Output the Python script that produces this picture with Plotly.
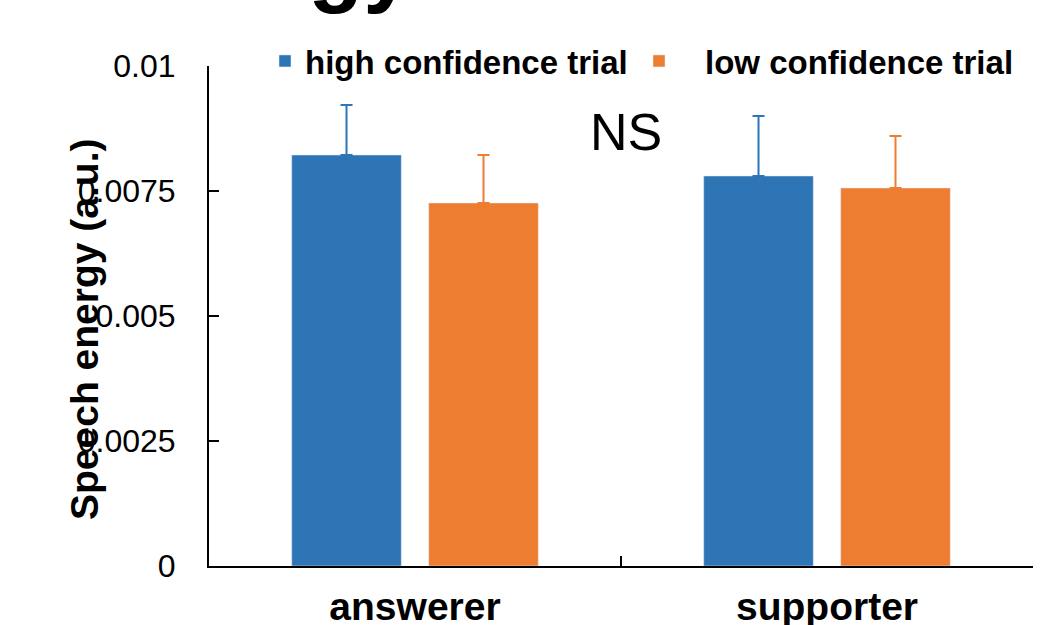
import plotly.graph_objects as go

categories = ["answerer", "supporter"]
high_vals = [0.00822, 0.00780]
high_err = [0.00100, 0.00120]
low_vals = [0.00726, 0.00756]
low_err = [0.00096, 0.00104]
series_names = ["high confidence trial", "low confidence trial"]
y_ticks = [0, 0.0025, 0.005, 0.0075, 0.01]
y_tick_labels = ["0", "0.0025", "0.005", "0.0075", "0.01"]

BLUE = "#2E75B6"
ORANGE = "#ED7D31"
FONT = "Liberation Sans, Arial, sans-serif"

fig = go.Figure()
fig.add_trace(go.Bar(
    x=categories, y=high_vals, name=series_names[0], marker_color=BLUE,
    legend="legend",
    error_y=dict(type="data", array=high_err, arrayminus=[0, 0], symmetric=False,
                 color=BLUE, thickness=2, width=6),
))
fig.add_trace(go.Bar(
    x=categories, y=low_vals, name=series_names[1], marker_color=ORANGE,
    legend="legend2",
    error_y=dict(type="data", array=low_err, arrayminus=[0, 0], symmetric=False,
                 color=ORANGE, thickness=2, width=6),
))

legend_common = dict(
    orientation="h", yanchor="middle", xanchor="left",
    font=dict(size=33, family=FONT, weight="bold", color="black"),
    bgcolor="rgba(0,0,0,0)", borderwidth=0,
)

fig.update_layout(
    width=1061, height=625,
    margin=dict(l=209, r=28, t=66, b=59, autoexpand=False),
    paper_bgcolor="white", plot_bgcolor="white",
    barmode="group", bargap=0.335, bargroupgap=0.2,
    font=dict(family=FONT, color="black"),
    showlegend=True,
    legend=dict(x=(265 - 209) / 824, y=(566 - 61) / 500, itemwidth=30, **legend_common),
    legend2=dict(x=(613 - 209) / 824, y=(566 - 61) / 500, itemwidth=82, **legend_common),
    xaxis=dict(
        automargin=False,
        showline=True, linecolor="black", linewidth=2,
        ticks="inside", ticklen=10, tickwidth=1.5, tickcolor="black",
        tickson="boundaries",
        tickfont=dict(size=39, family=FONT, weight="bold"),
        ticklabelstandoff=5,
        showgrid=False, zeroline=False,
    ),
    yaxis=dict(
        automargin=False,
        range=[0, 0.01], tickvals=y_ticks, ticktext=y_tick_labels,
        showline=True, linecolor="black", linewidth=2,
        ticks="inside", ticklen=10, tickwidth=1.5, tickcolor="black",
        tickfont=dict(size=32, family=FONT),
        ticklabelstandoff=25,
        showgrid=False, zeroline=False,
    ),
)

fig.add_annotation(
    text="Speech energy (a.u.)", textangle=-90,
    xref="paper", yref="paper", x=(84 - 209) / 824, y=(566 - 330) / 500,
    xanchor="center", yanchor="middle", showarrow=False,
    font=dict(size=39, family=FONT, weight="bold", color="black"),
)
fig.add_annotation(
    text="NS", xref="paper", yref="paper",
    x=(626 - 209) / 824, y=(566 - 132) / 500,
    xanchor="center", yanchor="middle", showarrow=False,
    font=dict(size=52, family=FONT, color="black"),
)
fig.add_annotation(
    text="Speech energy", xref="paper", yref="paper",
    x=(415 - 209) / 824, y=(566 - 16) / 500,
    xanchor="right", yanchor="bottom", showarrow=False,
    font=dict(size=90, family=FONT, weight="bold", color="black"),
)

fig.write_html(
    "out.html",
    config={"displayModeBar": False},
    post_script="document.body.style.margin='0';document.body.style.overflow='hidden';",
)
